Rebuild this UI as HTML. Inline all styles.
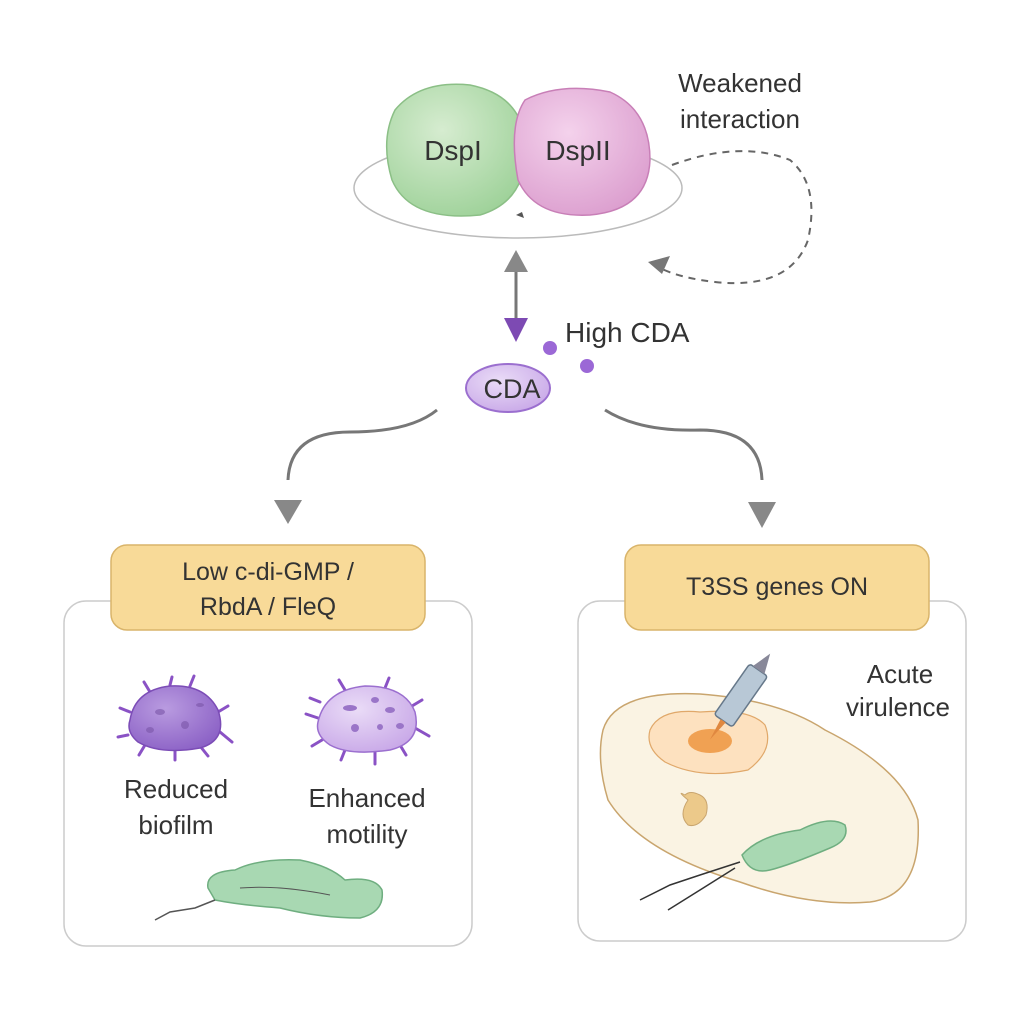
<!DOCTYPE html>
<html><head><meta charset="utf-8"><style>
html,body{margin:0;padding:0;background:#fff}
svg{display:block}
text{font-family:"Liberation Sans",sans-serif;fill:#333}
</style></head><body>
<svg width="1024" height="1024" viewBox="0 0 1024 1024" xmlns="http://www.w3.org/2000/svg">
<defs>
<radialGradient id="g1" cx="40%" cy="35%" r="70%"><stop offset="0" stop-color="#d6ecd0"/><stop offset="1" stop-color="#9fd29a"/></radialGradient>
<radialGradient id="g2" cx="40%" cy="35%" r="70%"><stop offset="0" stop-color="#f4d2ec"/><stop offset="1" stop-color="#dc9fcf"/></radialGradient>
<radialGradient id="gp" cx="40%" cy="35%" r="70%"><stop offset="0" stop-color="#b99be0"/><stop offset="1" stop-color="#8c62c6"/></radialGradient>
<radialGradient id="gl" cx="40%" cy="35%" r="70%"><stop offset="0" stop-color="#eadcf7"/><stop offset="1" stop-color="#c9a9e8"/></radialGradient>
</defs>
<ellipse cx="518" cy="188" rx="164" ry="50" fill="#fff" stroke="#bbb" stroke-width="1.5"/>
<path d="M395 110 Q420 80 470 85 Q520 95 525 140 Q530 200 480 215 Q410 222 392 180 Q380 140 395 110Z" fill="url(#g1)" stroke="#8bbf86" stroke-width="1.5"/>
<path d="M525 100 Q560 82 610 92 Q650 110 650 160 Q648 210 590 215 Q535 218 518 180 Q508 125 525 100Z" fill="url(#g2)" stroke="#c87fb7" stroke-width="1.5"/>
<text x="453" y="160" font-size="28" text-anchor="middle">DspI</text>
<text x="578" y="160" font-size="28" text-anchor="middle">DspII</text>
<path d="M516 215 l6 -3 l2 6z" fill="#555"/>
<text x="740" y="92" font-size="26" text-anchor="middle">Weakened</text>
<text x="740" y="128" font-size="26" text-anchor="middle">interaction</text>
<path d="M672 165 Q740 140 790 160 Q820 185 808 240 Q790 290 715 282 Q680 278 660 268" fill="none" stroke="#666" stroke-width="2" stroke-dasharray="7 6"/>
<path d="M648 262 l22 -6 l-8 18z" fill="#777"/>
<line x1="516" y1="265" x2="516" y2="322" stroke="#777" stroke-width="3"/>
<path d="M504 272 L516 250 L528 272Z" fill="#888"/>
<path d="M504 318 L516 342 L528 318Z" fill="#7d4ab3"/>
<circle cx="550" cy="348" r="7" fill="#9b68d6"/><circle cx="587" cy="366" r="7" fill="#9b68d6"/>
<text x="565" y="342" font-size="28">High CDA</text>
<ellipse cx="508" cy="388" rx="42" ry="24" fill="url(#gl)" stroke="#9b6fcf" stroke-width="2"/>
<text x="512" y="398" font-size="27" text-anchor="middle">CDA</text>
<path d="M437 410 Q410 432 350 432 Q290 432 288 480" fill="none" stroke="#777" stroke-width="3"/>
<path d="M274 500 L288 524 L302 500Z" fill="#888"/>
<path d="M605 410 Q640 432 700 430 Q760 430 762 480" fill="none" stroke="#777" stroke-width="3"/>
<path d="M748 502 L762 528 L776 502Z" fill="#888"/>
<rect x="64" y="601" width="408" height="345" rx="22" fill="#fff" stroke="#ccc" stroke-width="1.5"/>
<rect x="578" y="601" width="388" height="340" rx="22" fill="#fff" stroke="#ccc" stroke-width="1.5"/>
<rect x="111" y="545" width="314" height="85" rx="16" fill="#f8da98" stroke="#d9b46a" stroke-width="1.5"/>
<text x="268" y="580" font-size="25" text-anchor="middle">Low c-di-GMP /</text>
<text x="268" y="615" font-size="25" text-anchor="middle">RbdA / FleQ</text>
<rect x="625" y="545" width="304" height="85" rx="16" fill="#f8da98" stroke="#d9b46a" stroke-width="1.5"/>
<text x="777" y="595" font-size="25" text-anchor="middle">T3SS genes ON</text>
<g stroke="#8a52c5" stroke-width="3" fill="none" stroke-linecap="round">
<path d="M130 712 l-10 -4 M128 735 l-10 2 M145 745 l-6 10 M175 750 l0 10 M200 746 l8 10 M220 732 l12 10 M218 712 l10 -6 M190 686 l4 -10 M150 692 l-6 -10 M170 685 l2 -8"/>
<path d="M318 718 l-12 -4 M322 740 l-10 6 M345 750 l-4 10 M375 752 l0 12 M400 745 l6 10 M415 728 l14 8 M412 706 l10 -6 M385 688 l4 -10 M345 690 l-6 -10 M320 702 l-10 -4"/>
</g>
<path d="M130 720 Q135 690 170 686 Q205 684 218 710 Q228 740 200 748 Q160 755 138 742 Q126 732 130 720Z" fill="url(#gp)" stroke="#7b4cb6" stroke-width="1.5"/>
<path d="M318 722 Q325 690 365 686 Q405 686 415 712 Q422 742 390 750 Q350 756 330 745 Q315 735 318 722Z" fill="url(#gl)" stroke="#9b6fcf" stroke-width="1.5"/>
<g fill="#7a55a8" opacity="0.6"><ellipse cx="160" cy="712" rx="5" ry="3"/><ellipse cx="185" cy="725" rx="4" ry="4"/><ellipse cx="200" cy="705" rx="4" ry="2"/><ellipse cx="150" cy="730" rx="4" ry="3"/></g>
<g fill="#9a75c8"><ellipse cx="350" cy="708" rx="7" ry="3"/><ellipse cx="375" cy="700" rx="4" ry="3"/><ellipse cx="390" cy="710" rx="5" ry="3"/><ellipse cx="355" cy="728" rx="4" ry="4"/><ellipse cx="380" cy="727" rx="3" ry="3"/><ellipse cx="400" cy="726" rx="4" ry="3"/></g>
<text x="176" y="798" font-size="26" text-anchor="middle">Reduced</text>
<text x="176" y="834" font-size="26" text-anchor="middle">biofilm</text>
<text x="367" y="807" font-size="26" text-anchor="middle">Enhanced</text>
<text x="367" y="843" font-size="26" text-anchor="middle">motility</text>
<path d="M208 888 Q205 872 235 870 Q260 858 300 860 Q330 866 345 880 Q375 876 382 890 Q385 912 360 918 Q320 918 280 908 Q240 905 215 900Z" fill="#a8d8b2" stroke="#6fae80" stroke-width="1.5"/>
<path d="M215 900 L195 908 L170 912 L155 920" fill="none" stroke="#555" stroke-width="1.5"/>
<path d="M240 888 Q280 885 330 895" fill="none" stroke="#555" stroke-width="1"/>
<path d="M603 730 Q615 690 700 694 Q780 700 825 730 Q905 770 918 820 Q922 895 870 902 Q810 907 740 882 Q640 852 608 800 Q596 760 603 730Z" fill="#faf3e3" stroke="#c9a56e" stroke-width="1.5"/>
<path d="M650 730 Q660 708 700 712 Q750 708 765 725 Q775 750 748 770 Q700 780 665 762 Q645 748 650 730Z" fill="#fde1bf" stroke="#e0a86a" stroke-width="1.2"/>
<ellipse cx="710" cy="741" rx="22" ry="12" fill="#f0a153"/>
<g transform="translate(712 735) rotate(35)"><rect x="-10" y="-80" width="22" height="62" rx="3" fill="#b8c8d6" stroke="#66788a" stroke-width="1.5"/><path d="M-6 -80 L1 -100 L8 -80Z" fill="#889"/><path d="M-2 -18 L1 5 L4 -18Z" fill="#e08840"/></g>
<path d="M688 800 Q676 790 685 795 Q690 790 700 795 Q710 800 706 815 Q698 828 688 825 Q678 815 688 800Z" fill="#ecc98a" stroke="#c9a56e" stroke-width="1"/>
<path d="M742 855 Q760 835 800 830 Q830 815 845 825 Q850 840 830 848 Q790 865 770 870 Q750 875 742 855Z" fill="#a8d8b2" stroke="#6fae80" stroke-width="1.5"/>
<path d="M740 862 L700 875 L670 885 L640 900 M735 868 L700 890 L668 910" fill="none" stroke="#333" stroke-width="1.5"/>
<text x="900" y="683" font-size="26" text-anchor="middle">Acute</text>
<text x="898" y="716" font-size="26" text-anchor="middle">virulence</text>
</svg>
</body></html>
